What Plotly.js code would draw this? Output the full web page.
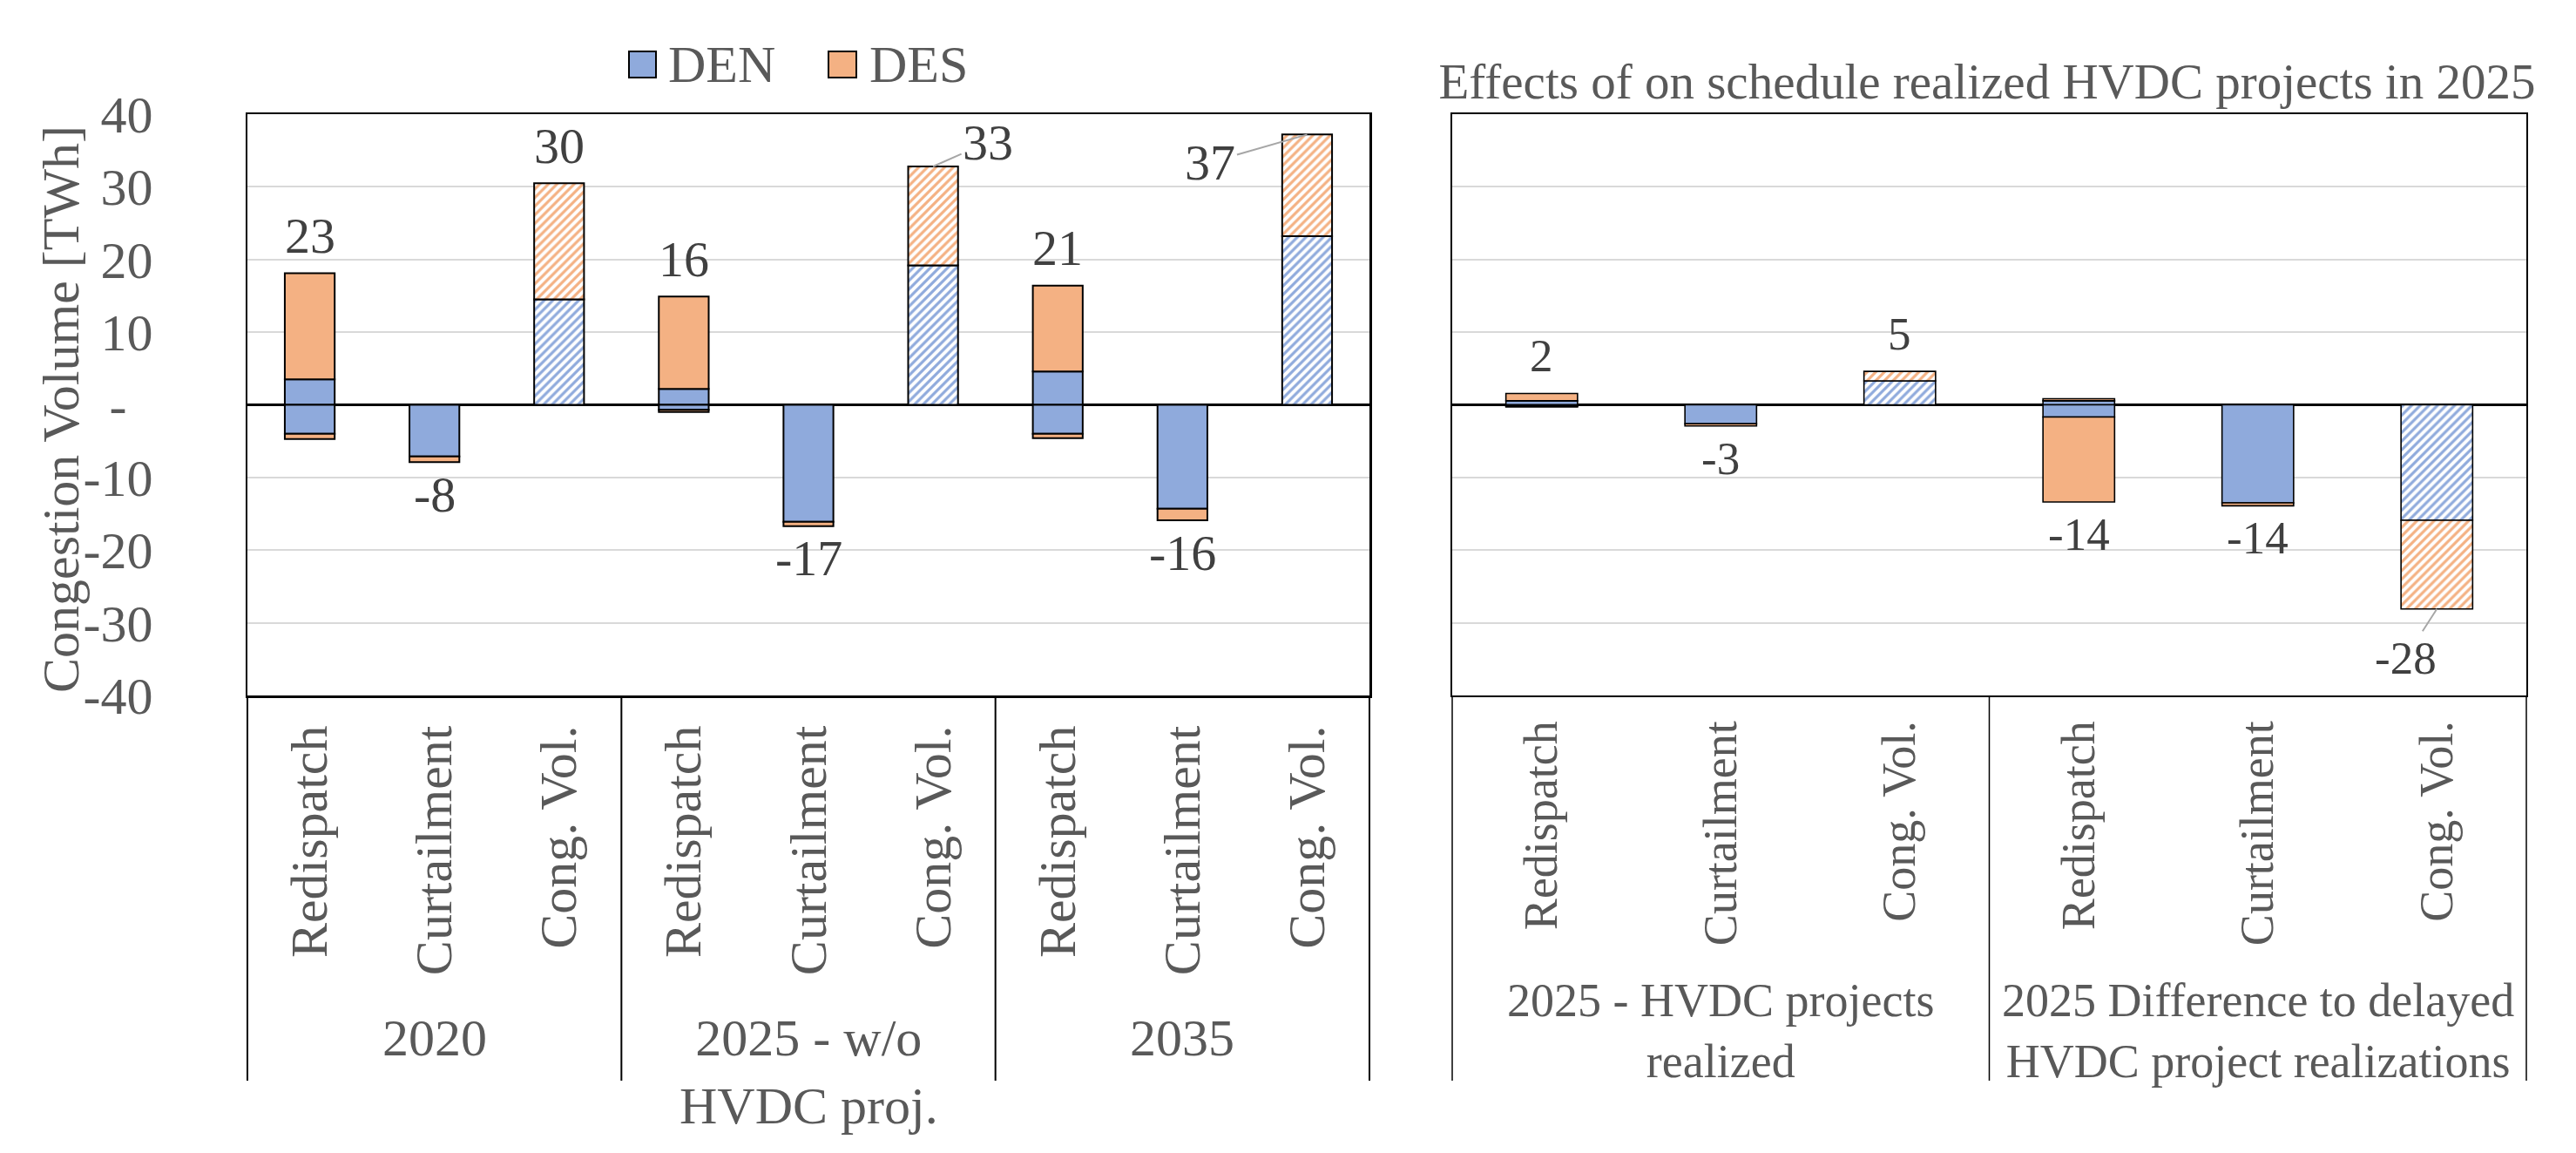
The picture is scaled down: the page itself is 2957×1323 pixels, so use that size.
<!DOCTYPE html>
<html>
<head>
<meta charset="utf-8">
<script src="https://cdn.plot.ly/plotly-3.0.1.min.js"></script>
<style>html,body{margin:0;padding:0;background:#ffffff;}</style>
</head>
<body>
<div id="chart" style="width:2957px;height:1323px;"></div>
<script>
// ---------------- data ----------------
const categories = ["Redispatch", "Curtailment", "Cong. Vol."];
const leftGroups = ["2020", "2025 - w/o<br>HVDC proj.", "2035"];
const rightGroups = ["2025 - HVDC projects<br>realized", "2025 Difference to delayed<br>HVDC project realizations"];

const leftDENpos = [3.5, null, 14.5, 2.2, null, 19.2, 4.6, null, 23.2];
const leftDESpos = [14.6, null, 16.0, 12.7, null, 13.6, 11.8, null, 14.0];
const leftDENneg = [-4.0, -7.1, null, -0.7, -16.1, null, -4.0, -14.3, null];
const leftDESneg = [-0.7, -0.8, null, -0.3, -0.6, null, -0.6, -1.6, null];
const leftLabels = [23, -8, 30, 16, -17, 33, 21, -16, 37];

const rightDENpos = [0.56, null, 3.3, 0.56, null, null];
const rightDESpos = [1.0, null, 1.3, 0.28, null, null];
const rightDENneg = [-0.2, -2.6, null, -1.68, -13.5, -15.9];
const rightDESneg = [-0.1, -0.3, null, -11.7, -0.4, -12.2];
const rightLabels = [2, -3, 5, -14, -14, -28];

const yTickVals = [-40, -30, -20, -10, 0, 10, 20, 30, 40];
const yTickText = ["-40", "-30", "-20", "-10", "-\u00a0\u00a0", "10", "20", "30", "40"];
const seriesNames = ["DEN", "DES"];
const rightTitle = "Effects of on schedule realized HVDC projects in 2025";
const yTitle = "Congestion Volume [TWh]";

// ---------------- styling ----------------
const W = 2957, H = 1323;
const FONT = "Liberation Serif, Times New Roman, serif";
const GREY = "#595959", DARK = "#404040";
const BLUE = "#8faadc", ORANGE = "#f4b183";
const yDom = [1 - 798 / H, 1 - 131 / H];
const catBottom = 1 - 1240 / H;

function buildKeys(groups) {
  const k = [], c = [];
  groups.forEach(g => categories.forEach(cat => { k.push(g.replace("<br>", " ") + " | " + cat); c.push(cat); }));
  return {keys: k, cats: c};
}
const L = buildKeys(leftGroups), R = buildKeys(rightGroups);

function seg(name, keys, cats, ys, color, xa, ya, lw) {
  const hatched = cats.map(c => c === "Cong. Vol.");
  return {
    type: "bar", name: name, x: keys, y: ys, xaxis: xa, yaxis: ya, showlegend: false,
    hoverinfo: "skip",
    marker: {
      color: color,
      line: {color: "#000000", width: lw},
      pattern: {
        shape: hatched.map(h => h ? "/" : ""),
        fgcolor: color, bgcolor: "#ffffff", size: 7, solidity: 0.45, fillmode: "replace"
      }
    }
  };
}

const traces = [
  seg("DEN", L.keys, L.cats, leftDENpos, BLUE, "x", "y", 2),
  seg("DES", L.keys, L.cats, leftDESpos, ORANGE, "x", "y", 2),
  seg("DEN", L.keys, L.cats, leftDENneg, BLUE, "x", "y", 2),
  seg("DES", L.keys, L.cats, leftDESneg, ORANGE, "x", "y", 2),
  seg("DEN", R.keys, R.cats, rightDENpos, BLUE, "x2", "y2", 1.6),
  seg("DES", R.keys, R.cats, rightDESpos, ORANGE, "x2", "y2", 1.6),
  seg("DEN", R.keys, R.cats, rightDENneg, BLUE, "x2", "y2", 1.6),
  seg("DES", R.keys, R.cats, rightDESneg, ORANGE, "x2", "y2", 1.6)
];

const annotations = [];
const shapes = [];

function sum(arrs, i) { return arrs.reduce((s, a) => s + (a[i] || 0), 0); }

function addLabels(keys, labels, pos, neg, xa, ya, size, leaders) {
  labels.forEach((lab, i) => {
    const positive = lab >= 0;
    const yv = positive ? sum(pos, i) : sum(neg, i);
    const a = {
      xref: xa, yref: ya, x: keys[i], y: yv, text: String(lab),
      font: {family: FONT, size: size, color: DARK}
    };
    if (leaders[i]) {
      Object.assign(a, {showarrow: true, arrowhead: 0, arrowwidth: 2, arrowcolor: "#a6a6a6",
        ax: leaders[i][0], ay: leaders[i][1]});
    } else {
      Object.assign(a, {showarrow: false, yanchor: "middle", yshift: positive ? 43 : -37});
    }
    annotations.push(a);
  });
}
addLabels(L.keys, leftLabels, [leftDENpos, leftDESpos], [leftDENneg, leftDESneg], "x", "y", 58,
  {5: [63, -28], 8: [-111, 32]});
addLabels(R.keys, rightLabels, [rightDENpos, rightDESpos], [rightDENneg, rightDESneg], "x2", "y2", 53,
  {5: [-36, 56]});

function addGroups(groups, xa, size, yTop, lw) {
  const n = groups.length;
  for (let k = 0; k <= n; k++) {
    shapes.push({type: "line", xref: xa + " domain", yref: "paper", x0: k / n, x1: k / n,
      y0: yDom[0], y1: catBottom, line: {color: "#000000", width: lw}});
  }
  groups.forEach((g, k) => {
    annotations.push({xref: xa + " domain", yref: "paper", x: (k + 0.5) / n, y: yTop,
      yanchor: "top", xanchor: "center", showarrow: false, text: g, align: "center",
      font: {family: FONT, size: size, color: GREY}});
  });
}
addGroups(leftGroups, "x", 60, 1 - 1156 / H, 2);
addGroups(rightGroups, "x2", 54, 1 - 1116 / H, 1.5);

// y-axis title (placed as rotated text beside the tick labels)
annotations.push({xref: "paper", yref: "paper", x: 70 / W, y: 1 - 470 / H, xanchor: "center",
  yanchor: "middle", textangle: -90, showarrow: false, text: yTitle,
  font: {family: FONT, size: 60, color: GREY}});

// manual legend (large square keys like the original)
const legendItems = [[722, 753, 765, BLUE], [951, 983, 996, ORANGE]];
seriesNames.forEach((nm, i) => {
  const it = legendItems[i];
  shapes.push({type: "rect", xref: "paper", yref: "paper", x0: it[0] / W, x1: it[1] / W,
    y0: 1 - 89 / H, y1: 1 - 59 / H, fillcolor: it[3], line: {color: "#000000", width: 2}});
  annotations.push({xref: "paper", yref: "paper", x: it[2] / W, y: 1 - 74 / H, xanchor: "left",
    yanchor: "middle", showarrow: false, text: nm, font: {family: FONT, size: 60, color: GREY}});
});

function xAxis(domain, anchor, keys, cats, size, standoff, lw) {
  return {
    domain: domain, anchor: anchor, type: "category", categoryorder: "array", categoryarray: keys,
    range: [-0.5, keys.length - 0.5], tickvals: keys, ticktext: cats, tickangle: -90,
    tickfont: {family: FONT, size: size, color: GREY}, ticks: "", ticklabelstandoff: standoff,
    showline: true, mirror: true, linecolor: "#000000", linewidth: lw, showgrid: false,
    automargin: false, fixedrange: true
  };
}
function yAxis(domain, anchor, showLabels, lw) {
  return {
    domain: domain, anchor: anchor, range: [-40, 40], tickvals: yTickVals, ticktext: yTickText,
    showticklabels: showLabels, tickfont: {family: FONT, size: 60, color: GREY}, ticks: "",
    ticklabelstandoff: 94, showgrid: true, gridcolor: "#d9d9d9", gridwidth: 2,
    zeroline: true, zerolinecolor: "#000000", zerolinewidth: 2.5,
    showline: true, mirror: true, linecolor: "#000000", linewidth: lw,
    automargin: false, fixedrange: true
  };
}

const layout = {
  width: W, height: H, margin: {l: 0, r: 0, t: 0, b: 0},
  paper_bgcolor: "#ffffff", plot_bgcolor: "#ffffff",
  barmode: "relative", bargap: 0.6, showlegend: false,
  font: {family: FONT, color: GREY},
  title: {text: rightTitle, x: 2281 / W, y: 1 - 93 / H, xref: "paper", yref: "paper",
    xanchor: "center", yanchor: "middle", font: {family: FONT, size: 57, color: GREY}},
  xaxis: xAxis([284 / W, 1572 / W], "y", L.keys, L.cats, 60, 8, 2.5),
  yaxis: yAxis(yDom, "x", true, 2.5),
  xaxis2: xAxis([1667 / W, 2900 / W], "y2", R.keys, R.cats, 54, 6, 1.6),
  yaxis2: yAxis(yDom, "x2", false, 1.6),
  annotations: annotations, shapes: shapes
};

Plotly.newPlot("chart", traces, layout, {staticPlot: true, displayModeBar: false});
</script>
</body>
</html>
